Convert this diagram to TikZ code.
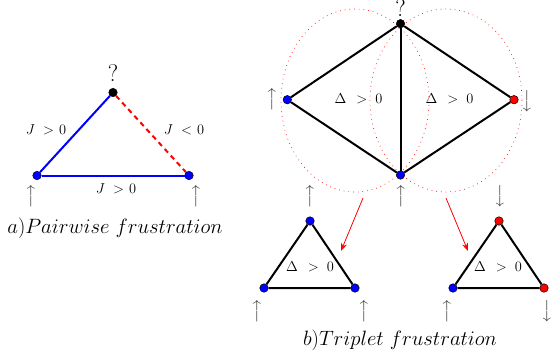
\documentclass[tikz,border=0pt]{standalone}
\usepackage{amsmath}
\usetikzlibrary{arrows.meta}
\newcommand\spinU{\ensuremath{\nulldelimiterspace=0pt\left\uparrow\vcenter to 21pt{}\right.}}
\newcommand\spinD{\ensuremath{\nulldelimiterspace=0pt\left\downarrow\vcenter to 21pt{}\right.}}
\begin{document}
\begin{tikzpicture}[x=1pt,y=-1pt,
  site/.style={circle,draw=black,line width=0.5pt,inner sep=0pt,minimum size=8.5pt},
  bsite/.style={site,fill=blue},
  rsite/.style={site,fill=red},
  ksite/.style={site,fill=black},
  spin/.style={text=black!75,inner sep=0pt,font=\fontsize{16}{19}\selectfont},
  lbl/.style={inner sep=0pt,font=\fontsize{15}{18}\selectfont},
  qmark/.style={inner sep=0pt,font=\fontsize{24}{28}\selectfont},
  capt/.style={inner sep=0pt,font=\fontsize{20.5}{24}\selectfont},
  bond/.style={line width=2pt},
  circ/.style={red,line width=0.7pt,dash pattern=on 0.7pt off 4pt},
  flow/.style={red,line width=0.8pt,-{Stealth[length=8pt,width=6pt]}}]
\useasboundingbox (0,0) rectangle (553,360);
% ---------- a) pairwise
\node[ksite] (aT) at (113,92.5) {};
\node[bsite] (aL) at (37,175.5) {};
\node[bsite] (aR) at (189,175.5) {};
\draw[bond,draw=blue] (aL) -- (aT);
\draw[bond,draw=blue] (aL.east) -- (aR.west);
\draw[bond,red,dash pattern=on 5pt off 4pt] (aT) -- (aR);
\node[qmark] (aQ) at (113,73.5) {?};
\node[lbl] (aJ1) at (46,130) {$J\hspace{4pt}>\hspace{1pt}0$};
\node[lbl] (aJ2) at (184,130) {$J\hspace{4pt}<\hspace{1pt}0$};
\node[lbl] (aJ3) at (116,189) {$J\hspace{4pt}>\hspace{1pt}0$};
\node[spin] (aSL) at (31.5,196) {\spinU};
\node[spin] (aSR) at (196.5,196) {\spinU};
\node[capt] (aC) at (115,228) {$a)Pairwise\ frustration$};
% ---------- b) triplet
\draw[circ] (355,100.5) ellipse [x radius=74,y radius=91.5];
\draw[circ] (446,100.5) ellipse [x radius=76,y radius=91.5];
\node[ksite] (bT) at (400.5,23.7) {};
\node[bsite] (bL) at (287.3,99.7) {};
\node[rsite] (bR) at (514,99.7) {};
\node[bsite] (bB) at (400.5,175) {};
\draw[bond] (bL) -- (bT) -- (bR) -- (bB) -- (bL);
\draw[bond] (bT) -- (bB);
\node[qmark] (bQ) at (400.5,8.5) {?};
\node[lbl] (bD1) at (358.5,99) {$\Delta\hspace{6pt}>\hspace{4pt}0$};
\node[lbl] (bD2) at (449.5,99) {$\Delta\hspace{6pt}>\hspace{4pt}0$};
\node[spin] (bSL) at (272,99) {\spinU};
\node[spin] (bSR) at (527,101) {\spinD};
\node[spin] (bSB) at (401,196) {\spinU};
% left small triangle
\node[bsite] (cT) at (310,221) {};
\node[bsite] (cL) at (264,288) {};
\node[bsite] (cR) at (355,288) {};
\draw[bond] (cT) -- (cR) -- (cL) -- (cT);
\node[lbl] (cD) at (310,267) {$\Delta\hspace{6pt}>\hspace{4pt}0$};
\node[spin] (cST) at (310,196) {\spinU};
\node[spin] (cSL) at (257,311) {\spinU};
\node[spin] (cSR) at (364,311) {\spinU};
% right small triangle
\node[rsite] (dT) at (499,221) {};
\node[bsite] (dL) at (453,288) {};
\node[rsite] (dR) at (544,288) {};
\draw[bond] (dT) -- (dR) -- (dL) -- (dT);
\node[lbl] (dD) at (498,267) {$\Delta\hspace{6pt}>\hspace{4pt}0$};
\node[spin] (dST) at (500,196) {\spinD};
\node[spin] (dSL) at (447,311) {\spinU};
\node[spin] (dSR) at (547,311) {\spinD};
% red arrows
\coordinate (f1s) at (363,198);
\coordinate (f1e) at (341,251);
\coordinate (f2s) at (446,198);
\coordinate (f2e) at (468,251);
\draw[flow] (f1s) -- (f1e);
\draw[flow] (f2s) -- (f2e);
\node[capt] (bC) at (400,340) {$b)Triplet\ frustration$};
\end{tikzpicture}
\end{document}
